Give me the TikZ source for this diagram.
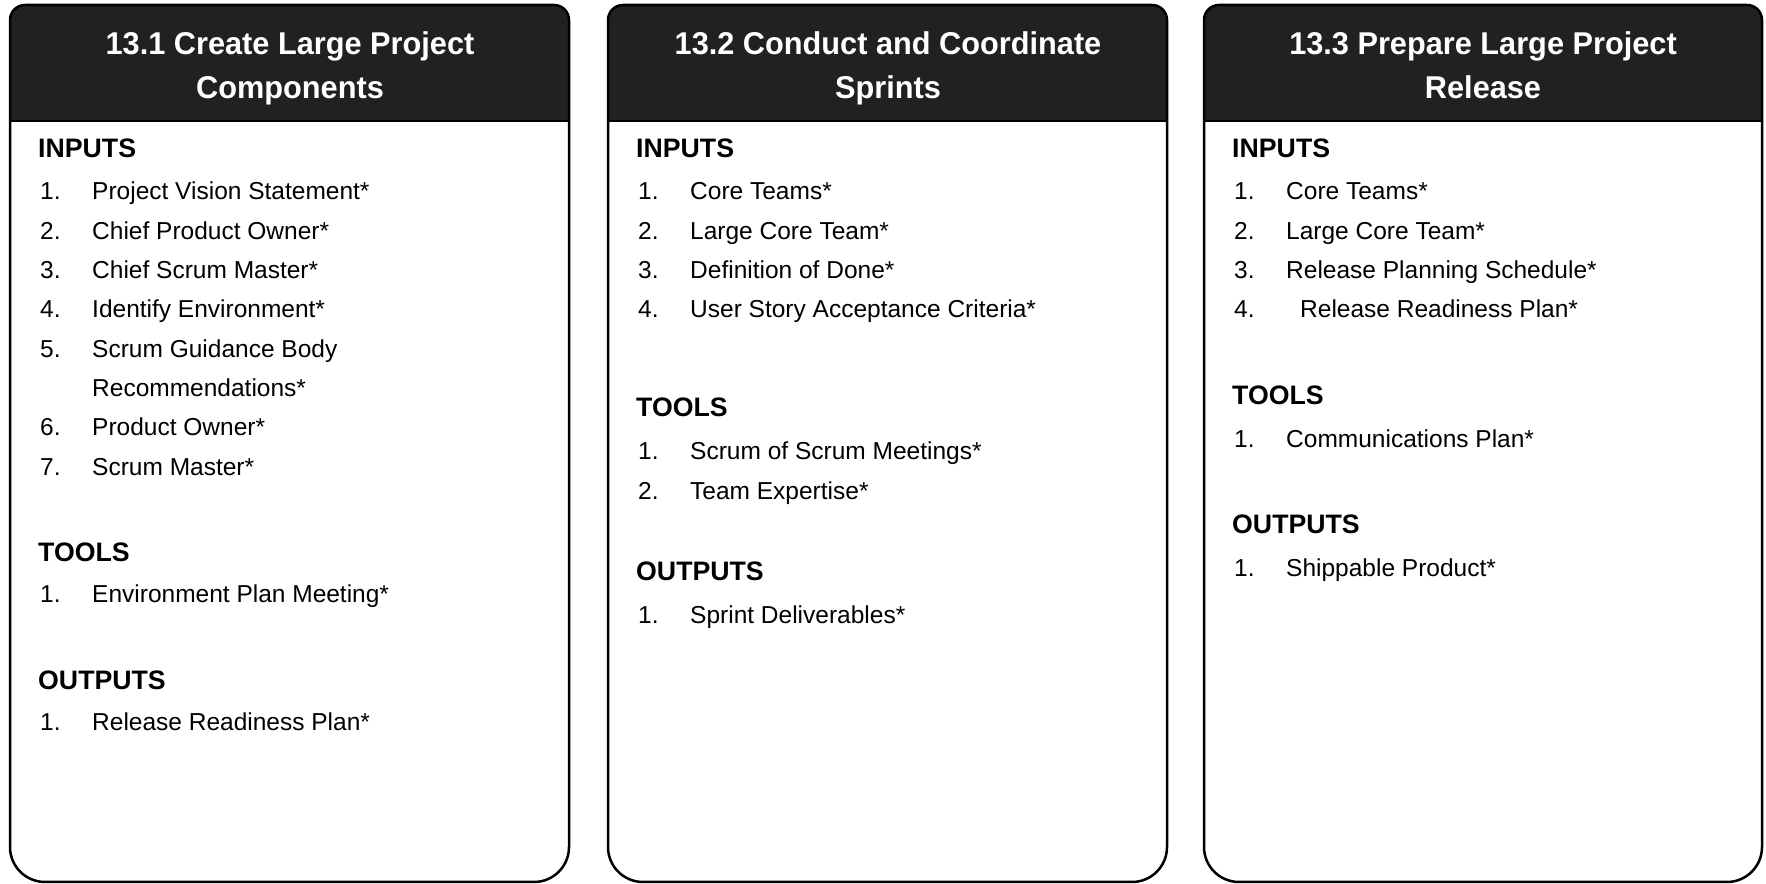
\documentclass[tikz,border=0pt]{standalone}
\usepackage{fontspec}
\setmainfont{Liberation Sans}
\newfontfamily\titlefont{Liberation Sans}[FakeStretch=0.975]
\definecolor{hdr}{HTML}{212121}
\tikzset{
  outline/.style={draw=black, line width=2.5pt},
  ttl/.style={text=white, font=\titlefont\bfseries\fontsize{31.5}{40}\selectfont, inner sep=0pt, anchor=base},
  sec/.style={font=\bfseries\fontsize{26.7}{30}\selectfont, inner sep=0pt, anchor=base west},
  num/.style={font=\fontsize{24.5}{29}\selectfont, inner sep=0pt, anchor=base west},
  itm/.style={font=\fontsize{24.5}{29}\selectfont, inner sep=0pt, anchor=base west},
}
\newcommand\procbox[2]{%
  \fill[hdr] (#1,762) -- (#1,863) arc[start angle=180,end angle=90,radius=15pt]
     -- ({#2-15},878) arc[start angle=90,end angle=0,radius=15pt] -- (#2,762) -- cycle;
  \draw[line width=2pt] (#1,762) -- (#2,762);
  \draw[outline] (#1,762) -- (#1,863) arc[start angle=180,end angle=90,radius=15pt]
     -- ({#2-15},878) arc[start angle=90,end angle=0,radius=15pt]
     -- (#2,36) arc[start angle=0,end angle=-90,radius=35pt]
     -- ({#1+35},1) arc[start angle=270,end angle=180,radius=35pt] -- cycle;
}
\newcommand\entry[6]{%
  \node[num] (#1n) at (#2,#4) {#5};
  \node[itm] (#1t) at (#3,#4) {#6};
}
\begin{document}
\begin{tikzpicture}[x=1pt,y=1pt]
\useasboundingbox (0,0) rectangle (1766,883);
\fill[white] (0,0) rectangle (1766,883);

% ---------- Box 1 ----------
\procbox{10}{569}
\node[ttl] (t1a) at (290,828) {13.1 Create Large Project};
\node[ttl] (t1b) at (290,784.5) {Components};
\node[sec] (s1i) at (38,725) {INPUTS};
\entry{a1}{40}{92}{683}{1.}{Project Vision Statement*}
\entry{a2}{40}{92}{643.7}{2.}{Chief Product Owner*}
\entry{a3}{40}{92}{604.4}{3.}{Chief Scrum Master*}
\entry{a4}{40}{92}{565.1}{4.}{Identify Environment*}
\entry{a5}{40}{92}{525.8}{5.}{Scrum Guidance Body}
\node[itm] (a5b) at (92,486.5) {Recommendations*};
\entry{a6}{40}{92}{447.2}{6.}{Product Owner*}
\entry{a7}{40}{92}{407.9}{7.}{Scrum Master*}
\node[sec] (s1t) at (38,321.3) {TOOLS};
\entry{a8}{40}{92}{280.3}{1.}{Environment Plan Meeting*}
\node[sec] (s1o) at (38,193.7) {OUTPUTS};
\entry{a9}{40}{92}{152}{1.}{Release Readiness Plan*}

% ---------- Box 2 ----------
\procbox{608}{1167}
\node[ttl] (t2a) at (888,828) {13.2 Conduct and Coordinate};
\node[ttl] (t2b) at (888,784.5) {Sprints};
\node[sec] (s2i) at (636,725) {INPUTS};
\entry{b1}{638}{690}{683}{1.}{Core Teams*}
\entry{b2}{638}{690}{643.7}{2.}{Large Core Team*}
\entry{b3}{638}{690}{604.4}{3.}{Definition of Done*}
\entry{b4}{638}{690}{565.1}{4.}{User Story Acceptance Criteria*}
\node[sec] (s2t) at (636,466.5) {TOOLS};
\entry{b5}{638}{690}{423}{1.}{Scrum of Scrum Meetings*}
\entry{b6}{638}{690}{383.7}{2.}{Team Expertise*}
\node[sec] (s2o) at (636,302.5) {OUTPUTS};
\entry{b7}{638}{690}{259}{1.}{Sprint Deliverables*}

% ---------- Box 3 ----------
\procbox{1204}{1762}
\node[ttl] (t3a) at (1483,828) {13.3 Prepare Large Project};
\node[ttl] (t3b) at (1483,784.5) {Release};
\node[sec] (s3i) at (1232,725) {INPUTS};
\entry{c1}{1234}{1286}{683}{1.}{Core Teams*}
\entry{c2}{1234}{1286}{643.7}{2.}{Large Core Team*}
\entry{c3}{1234}{1286}{604.4}{3.}{Release Planning Schedule*}
\entry{c4}{1234}{1300}{565.1}{4.}{Release Readiness Plan*}
\node[sec] (s3t) at (1232,478.5) {TOOLS};
\entry{c5}{1234}{1286}{435}{1.}{Communications Plan*}
\node[sec] (s3o) at (1232,349.5) {OUTPUTS};
\entry{c6}{1234}{1286}{306}{1.}{Shippable Product*}
\end{tikzpicture}
\end{document}
